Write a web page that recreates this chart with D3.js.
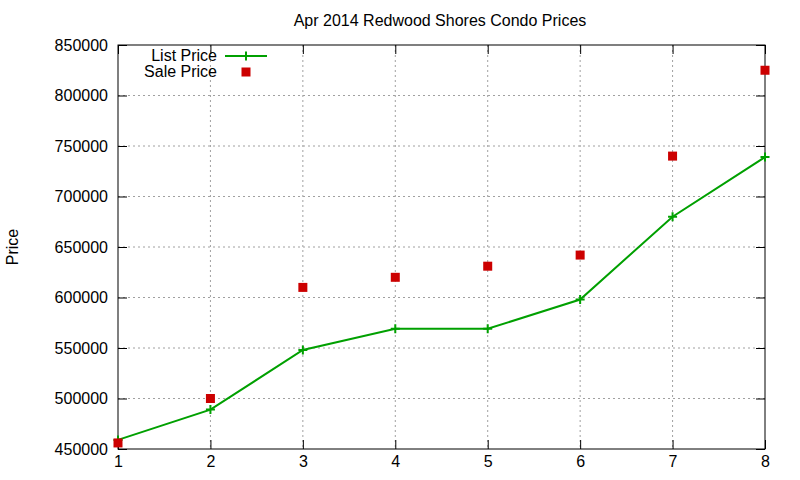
<!DOCTYPE html>
<html>
<head>
<meta charset="utf-8">
<script src="https://d3js.org/d3.v7.min.js"></script>
<style>
  body { margin: 0; background: #fff; }
  svg { font-family: "Liberation Sans", Arial, sans-serif; }
</style>
</head>
<body>
<div id="chart-area"></div>
<script>
// data
var months = [1, 2, 3, 4, 5, 6, 7, 8];
var listPrice = [459000, 489000, 548000, 569000, 569000, 598000, 680000, 739000];
var salePrice = [456000, 500000, 610000, 620000, 631000, 642000, 740000, 825000];
var yTicks = [450000, 500000, 550000, 600000, 650000, 700000, 750000, 800000, 850000];

var margin = { left: 118, right: 35, top: 45, bottom: 31 };
var width = 800 - margin.left - margin.right,
    height = 480 - margin.top - margin.bottom;

var svg = d3.select("#chart-area")
    .append("svg")
        .attr("width", 800)
        .attr("height", 480);

var g = svg.append("g")
    .attr("transform", "translate(" + margin.left + "," + margin.top + ")");

// Scales
var x = d3.scaleLinear()
    .domain([1, 8])
    .range([0, width]);
var y = d3.scaleLinear()
    .domain([450000, 850000])
    .range([height, 0]);

// Grid
g.selectAll(".xgrid").data(months.slice(1, -1))
    .enter().append("line")
        .attr("x1", function(d){ return x(d); })
        .attr("x2", function(d){ return x(d); })
        .attr("y1", 0)
        .attr("y2", height)
        .attr("stroke", "#a0a0a0")
        .attr("stroke-dasharray", "2,3");
g.selectAll(".ygrid").data(yTicks.slice(1, -1))
    .enter().append("line")
        .attr("y1", function(d){ return y(d); })
        .attr("y2", function(d){ return y(d); })
        .attr("x1", 0)
        .attr("x2", width)
        .attr("stroke", "#a0a0a0")
        .attr("stroke-dasharray", "2,3");

// Axes (ticks point inward, mirrored on top and right)
var xAxisCall = d3.axisBottom(x).tickValues(months).tickSize(-9).tickPadding(14)
    .tickFormat(d3.format("d"));
var yAxisCall = d3.axisLeft(y).tickValues(yTicks).tickSize(-9).tickPadding(10)
    .tickFormat(d3.format("d"));

var xAxis = g.append("g")
    .attr("transform", "translate(0," + height + ")")
    .call(xAxisCall);
var yAxis = g.append("g").call(yAxisCall);
var xTop = g.append("g").call(d3.axisTop(x).tickValues(months).tickSize(-9).tickFormat(""));
var yRight = g.append("g")
    .attr("transform", "translate(" + width + ",0)")
    .call(d3.axisRight(y).tickValues(yTicks).tickSize(-9).tickFormat(""));

[xAxis, yAxis, xTop, yRight].forEach(function(a){
    a.select(".domain").remove();
    a.selectAll("line").attr("stroke", "#000");
    a.selectAll("text")
        .attr("font-size", "16px")
        .attr("fill", "#000")
        .attr("font-family", "Liberation Sans, Arial, sans-serif");
});
xAxis.selectAll("text").attr("dy", "0.71em").attr("y", 7);

// border
g.append("rect")
    .attr("width", width)
    .attr("height", height)
    .attr("fill", "none")
    .attr("stroke", "#000")
    .attr("stroke-width", 1);

// List price line
var line = d3.line()
    .x(function(d, i){ return x(months[i]); })
    .y(function(d){ return y(d); });

g.append("path")
    .datum(listPrice)
    .attr("d", line)
    .attr("fill", "none")
    .attr("stroke", "#00a000")
    .attr("stroke-width", 2);

function plus(sel, cx, cy) {
    sel.append("path")
        .attr("d", "M" + (cx - 4.5) + "," + cy + "H" + (cx + 4.5) +
                   "M" + cx + "," + (cy - 4.5) + "V" + (cy + 4.5))
        .attr("stroke", "#00a000")
        .attr("stroke-width", 2)
        .attr("fill", "none");
}

listPrice.forEach(function(d, i){
    plus(g, x(months[i]), y(d));
});

// Sale price squares
g.selectAll(".sale").data(salePrice)
    .enter().append("rect")
        .attr("x", function(d, i){ return x(months[i]) - 4.5; })
        .attr("y", function(d){ return y(d) - 4.5; })
        .attr("width", 9)
        .attr("height", 9)
        .attr("fill", "#cc0000");

// Legend
var legend = svg.append("g");
legend.append("text")
    .attr("x", 217).attr("y", 61)
    .attr("text-anchor", "end")
    .attr("font-size", "16px")
    .text("List Price");
legend.append("line")
    .attr("x1", 225).attr("x2", 267)
    .attr("y1", 56).attr("y2", 56)
    .attr("stroke", "#00a000")
    .attr("stroke-width", 2);
plus(legend, 246, 56);
legend.append("text")
    .attr("x", 217).attr("y", 77)
    .attr("text-anchor", "end")
    .attr("font-size", "16px")
    .text("Sale Price");
legend.append("rect")
    .attr("x", 241.5).attr("y", 67.5)
    .attr("width", 9).attr("height", 9)
    .attr("fill", "#cc0000");

// Title
svg.append("text")
    .attr("x", 440).attr("y", 26)
    .attr("text-anchor", "middle")
    .attr("font-size", "16px")
    .text("Apr 2014 Redwood Shores Condo Prices");

// Y label
svg.append("text")
    .attr("transform", "translate(18,247) rotate(-90)")
    .attr("text-anchor", "middle")
    .attr("font-size", "16px")
    .text("Price");
</script>
</body>
</html>
